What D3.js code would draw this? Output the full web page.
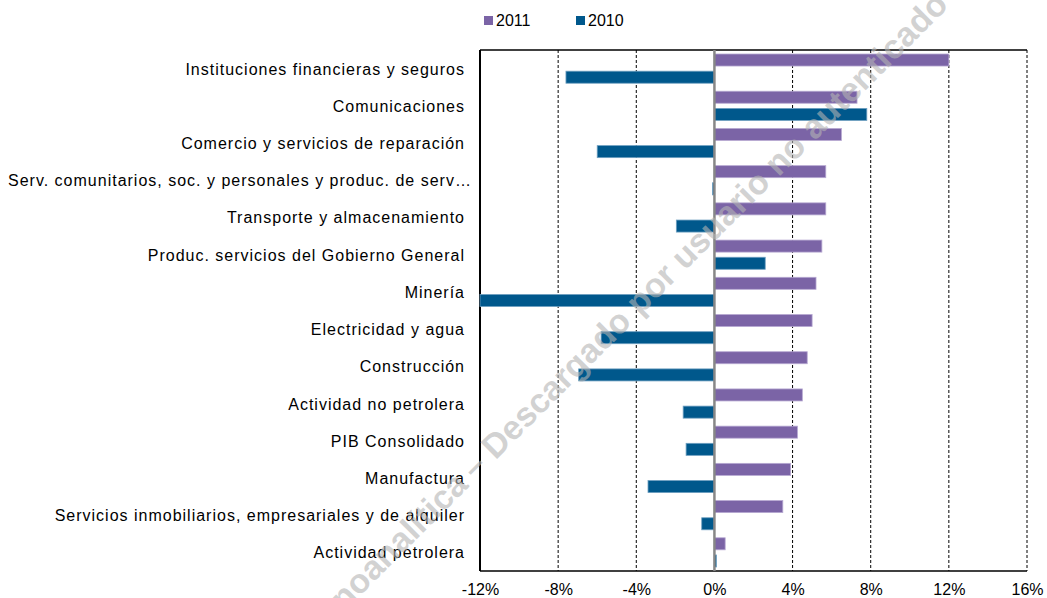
<!DOCTYPE html>
<html>
<head>
<meta charset="utf-8">
<script src="https://cdn.jsdelivr.net/npm/d3@7"></script>
<style>
  body { margin: 0; background: #fff; }
  svg { font-family: "Liberation Sans", Arial, sans-serif; }
</style>
</head>
<body>
<div id="chart"></div>
<script>
const categories = [
  "Instituciones financieras y seguros",
  "Comunicaciones",
  "Comercio y servicios de reparación",
  "Serv. comunitarios, soc. y personales y produc. de serv…",
  "Transporte y almacenamiento",
  "Produc. servicios del Gobierno General",
  "Minería",
  "Electricidad y agua",
  "Construcción",
  "Actividad no petrolera",
  "PIB Consolidado",
  "Manufactura",
  "Servicios inmobiliarios, empresariales y de alquiler",
  "Actividad petrolera"
]
const series = ["2011", "2010"]
const values2011 = [12.0, 7.3, 6.5, 5.7, 5.7, 5.5, 5.2, 5.0, 4.75, 4.5, 4.25, 3.9, 3.5, 0.55]
const values2010 = [-7.6, 7.8, -6.0, -0.1, -1.95, 2.6, -12.0, -5.8, -6.95, -1.6, -1.45, -3.4, -0.65, 0.1]
const xTicks = [-12, -8, -4, 0, 4, 8, 12, 16]
const colors = {"2011": "#7b64a6", "2010": "#00588c"}
const strokes = {"2011": "#b7a9d2", "2010": "#6e9fc0"}

const W = 1047, H = 598
const PLOT = {LEFT: 480, RIGHT: 1027, TOP: 50, BOTTOM: 571}

const data = categories.map((c, i) => ({cat: c, "2011": values2011[i], "2010": values2010[i]}))

const svg = d3.select("#chart").append("svg")
  .attr("width", W).attr("height", H)

const x = d3.scaleLinear().domain([-12, 16]).range([PLOT.LEFT, PLOT.RIGHT])
const y = d3.scaleBand().domain(categories).range([PLOT.TOP, PLOT.BOTTOM])
const yInner = d3.scaleBand().domain(series).range([4, y.bandwidth() - 4]).paddingInner(0.3)

// dashed gridlines
svg.append("g").selectAll("line")
  .data(xTicks.filter(t => t !== 0 && t !== -12))
  .join("line")
  .attr("x1", d => x(d)).attr("x2", d => x(d))
  .attr("y1", PLOT.TOP).attr("y2", PLOT.BOTTOM)
  .attr("stroke", "#000").attr("stroke-width", 1)
  .attr("stroke-dasharray", "3,2")

// frame: top, bottom, left
svg.append("line").attr("x1", PLOT.LEFT).attr("x2", PLOT.RIGHT)
  .attr("y1", PLOT.TOP).attr("y2", PLOT.TOP).attr("stroke", "#000").attr("stroke-width", 1.5)
svg.append("line").attr("x1", PLOT.LEFT).attr("x2", PLOT.RIGHT)
  .attr("y1", PLOT.BOTTOM).attr("y2", PLOT.BOTTOM).attr("stroke", "#000").attr("stroke-width", 1.5)
svg.append("line").attr("x1", x(-12)).attr("x2", x(-12))
  .attr("y1", PLOT.TOP).attr("y2", PLOT.BOTTOM).attr("stroke", "#000").attr("stroke-width", 2)

// bars
const groups = svg.append("g").selectAll("g")
  .data(data)
  .join("g")
  .attr("transform", d => `translate(0,${y(d.cat)})`)

groups.selectAll("rect")
  .data(d => series.map(s => ({s, v: d[s]})))
  .join("rect")
  .attr("x", d => x(Math.min(0, d.v)))
  .attr("width", d => Math.abs(x(d.v) - x(0)))
  .attr("y", d => yInner(d.s))
  .attr("height", yInner.bandwidth())
  .attr("fill", d => colors[d.s])
  .attr("stroke", d => strokes[d.s])
  .attr("stroke-width", 0.8)

// zero line
svg.append("line").attr("x1", x(0)).attr("x2", x(0))
  .attr("y1", PLOT.TOP).attr("y2", PLOT.BOTTOM)
  .attr("stroke", "#878787").attr("stroke-width", 2.5)

// category labels
svg.append("g").selectAll("text")
  .data(categories)
  .join("text")
  .attr("x", 465)
  .attr("y", d => y(d) + y.bandwidth() / 2 + 6)
  .attr("text-anchor", "end")
  .attr("font-size", 16)
  .attr("letter-spacing", 1)
  .attr("fill", "#000")
  .text(d => d)
  .each(function () {
    const b = this.getBBox()
    if (b.x < 8) d3.select(this).attr("text-anchor", "start").attr("x", 8)
  })

// x axis labels
const xAxis = d3.axisBottom(x).tickValues(xTicks).tickFormat(d => d + "%").tickSize(0).tickPadding(13)
svg.append("g").attr("transform", `translate(0,${PLOT.BOTTOM})`)
  .call(xAxis)
  .call(g => g.select(".domain").remove())
  .call(g => g.selectAll("text").attr("font-size", 16).attr("fill", "#000")
    .attr("font-family", "Liberation Sans, Arial, sans-serif"))

// legend
const legend = svg.append("g").attr("transform", "translate(484,15)")
series.forEach((s, i) => {
  const lg = legend.append("g").attr("transform", `translate(${i * 92},0)`)
  lg.append("rect").attr("width", 9).attr("height", 9).attr("y", 1).attr("fill", colors[s])
  lg.append("text").attr("x", 12).attr("y", 11).attr("font-size", 16).text(s)
})

// watermark
const wm = svg.append("g")
  .attr("transform", "translate(481,475) rotate(-45)")
  .attr("font-size", 34)
  .attr("font-weight", "bold")
  .attr("fill", "#b4b4b4")
  .attr("fill-opacity", 0.6)
wm.append("text").attr("x", -16).attr("text-anchor", "end").text("Econoanalítica")
wm.append("text").attr("x", -8).attr("text-anchor", "start").text("– Descargado por usuario no autenticado")
</script>
</body>
</html>
